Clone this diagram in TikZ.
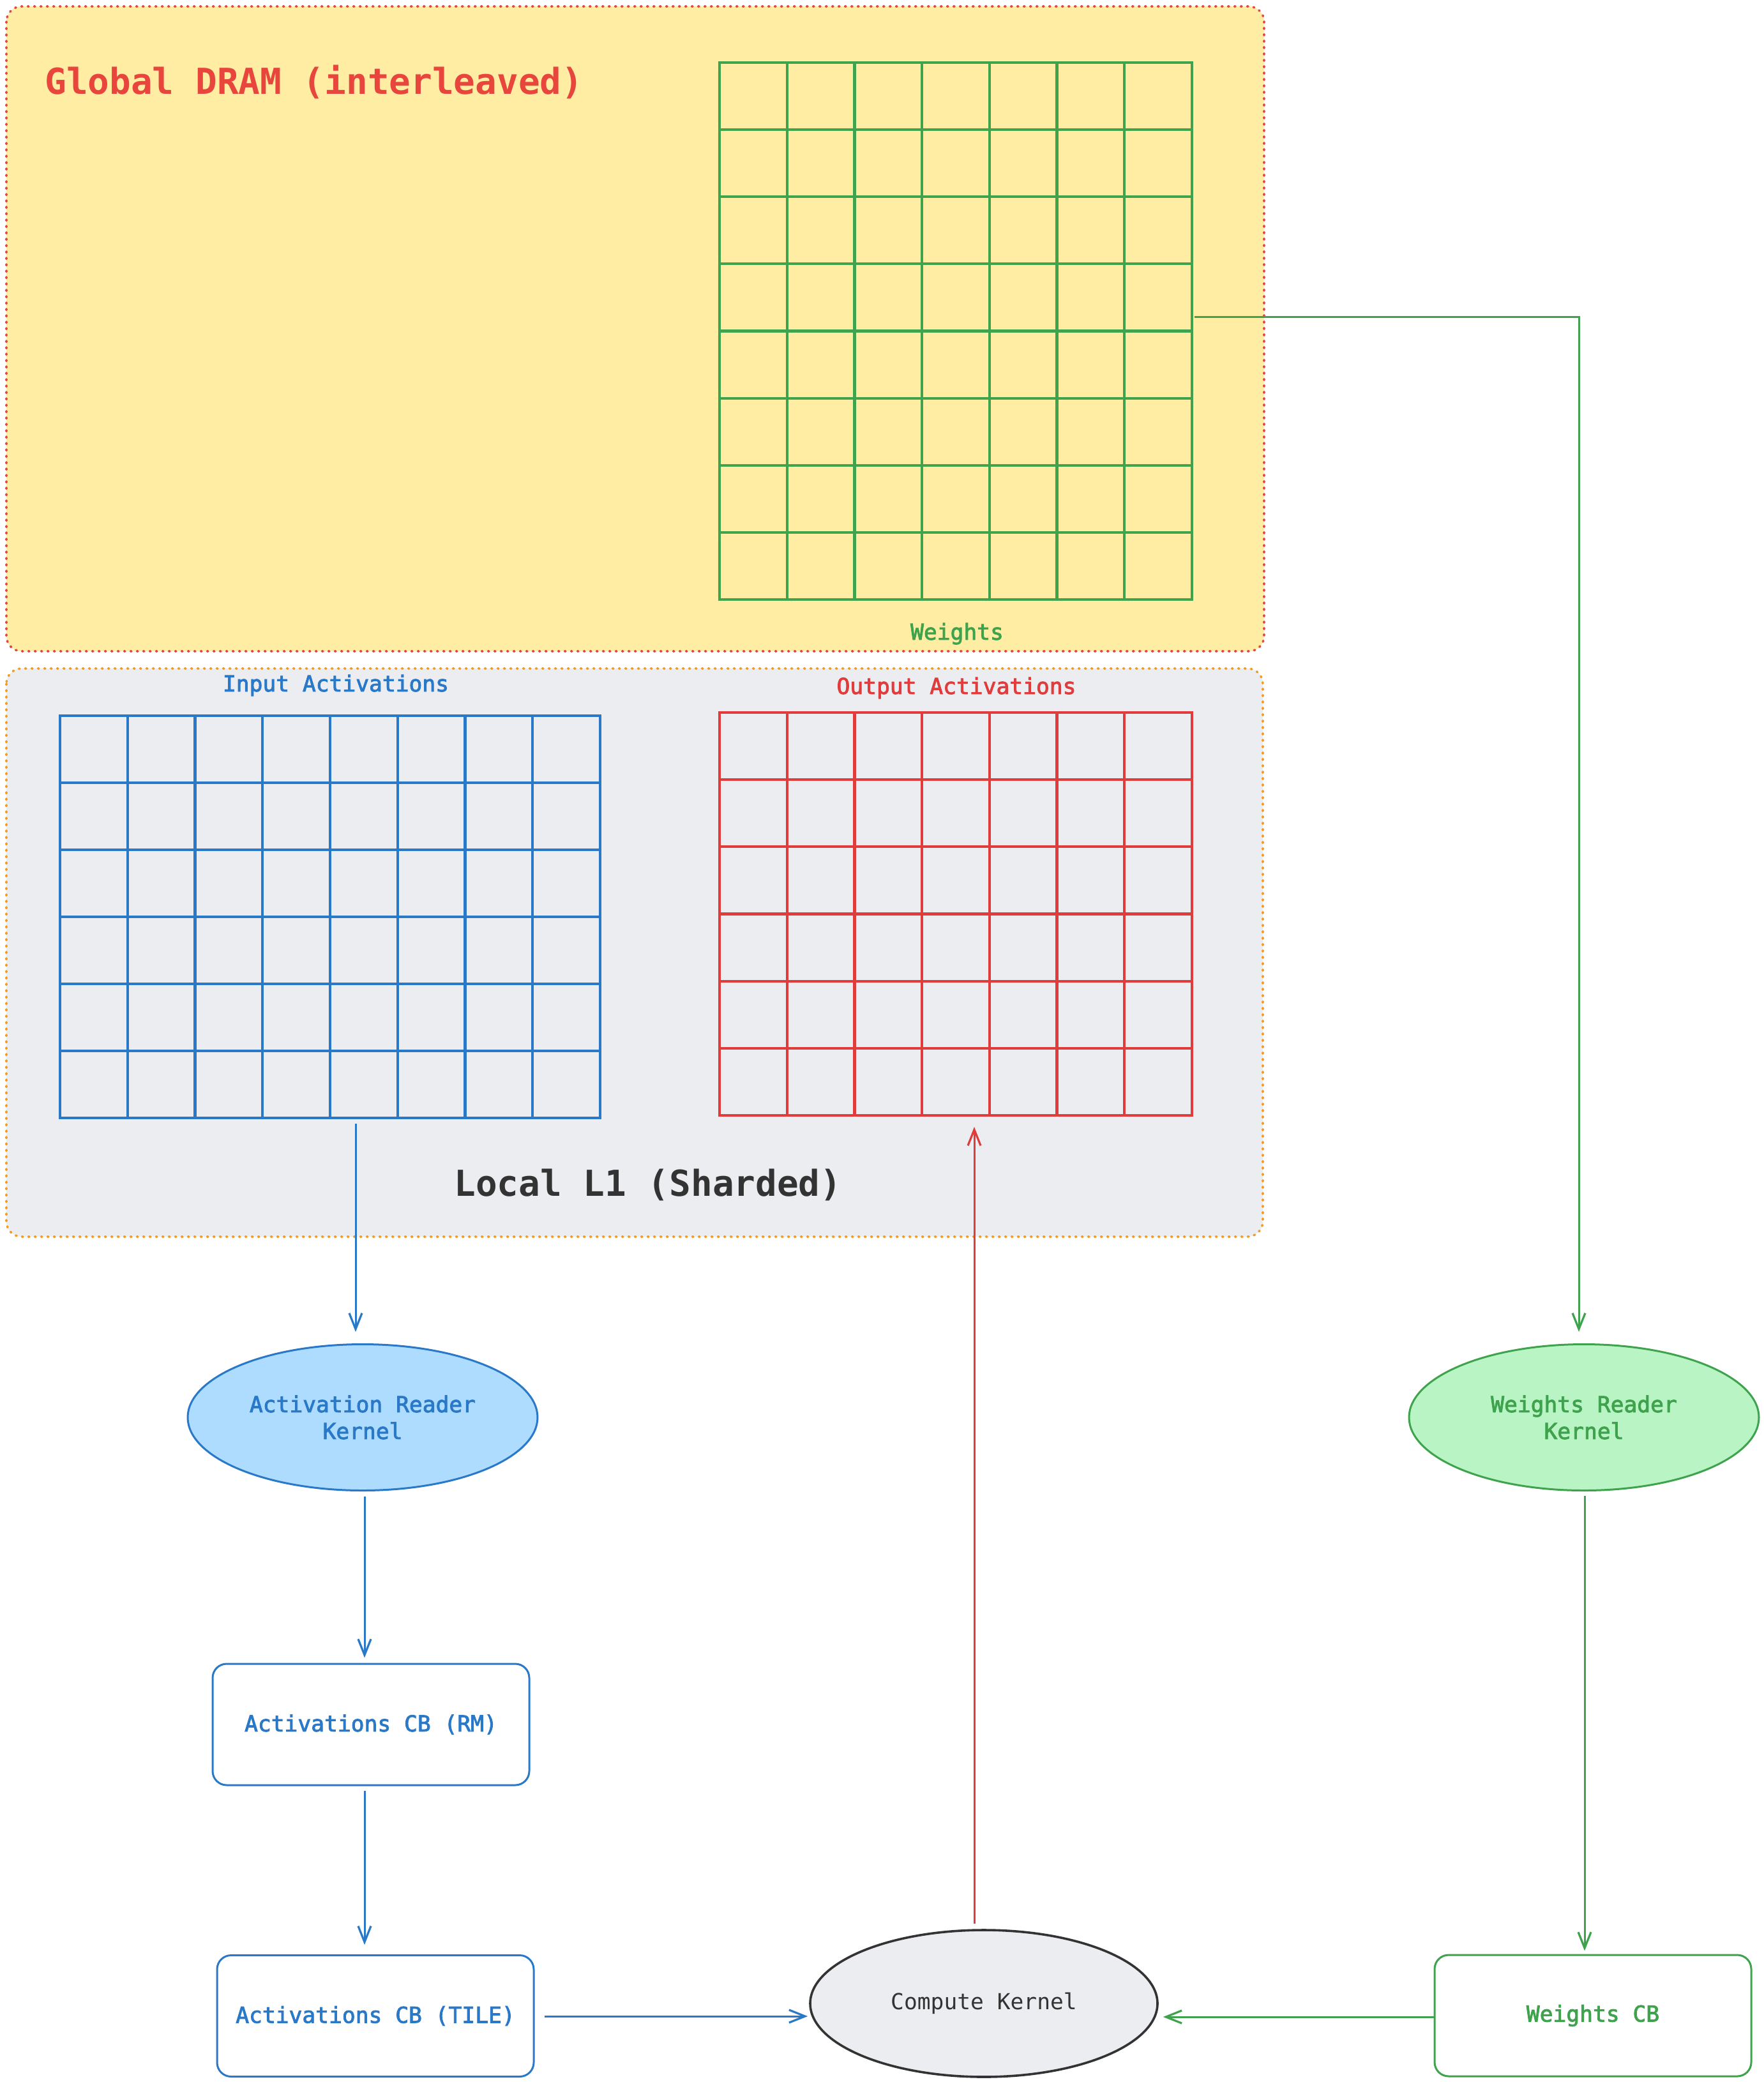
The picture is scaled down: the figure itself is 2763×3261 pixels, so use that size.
\documentclass[tikz,border=0pt]{standalone}
\usepackage{fontspec}
\setmonofont{DejaVu Sans Mono}
\newfontfamily\semimono[FakeBold=2.5]{DejaVu Sans Mono}
\usetikzlibrary{arrows.meta,shapes.geometric,calc}
\definecolor{dramfill}{HTML}{FFEDA4}
\definecolor{dramred}{HTML}{E84545}
\definecolor{lonefill}{HTML}{ECEDF1}
\definecolor{loneorange}{HTML}{F39C1F}
\definecolor{gr}{HTML}{3FA34D}
\definecolor{bl}{HTML}{2A78C8}
\definecolor{rd}{HTML}{E03C3C}
\definecolor{ttl}{HTML}{E8453C}
\definecolor{ltblue}{HTML}{ADDCFE}
\definecolor{ltgreen}{HTML}{B8F4C4}
\definecolor{dk}{HTML}{333333}
\tikzset{
  smalltxt/.style={font=\semimono\fontsize{17.3}{21}\selectfont},
  plaintxt/.style={font=\ttfamily\fontsize{17.3}{21}\selectfont},
  bigtxt/.style={font=\ttfamily\bfseries\fontsize{28}{34}\selectfont},
  container/.style={line width=1.8pt, dash pattern=on 0.8pt off 4.2pt, line cap=round, rounded corners=12pt},
  gridline/.style={line width=2.1pt},
  gridbox/.style={rectangle, draw, line width=2.1pt, inner sep=0pt, outer sep=0pt},
  kernel/.style={ellipse, line width=1.5pt, minimum width=274pt, minimum height=114.5pt, inner sep=0pt, align=center, smalltxt},
  cbbox/.style={rectangle, rounded corners=11pt, line width=1.5pt, fill=white, minimum width=248pt, minimum height=95pt, inner sep=0pt, smalltxt},
  conn/.style={line width=1.5pt, -{Straight Barb[length=12.5pt,width=10pt,line width=1.6pt]}},
}
\begin{document}
\begin{tikzpicture}[x=0.5pt,y=-0.5pt]
\useasboundingbox (0,0) rectangle (2763,3261);
\fill[white] (0,0) rectangle (2763,3261);

% containers
\path[container, fill=dramfill, draw=dramred] (10,10) rectangle (1980,1020);
\path[container, fill=lonefill, draw=loneorange] (10,1047) rectangle (1978,1937);

% titles
\node[bigtxt, text=ttl, anchor=base west, inner sep=0pt] (dramtitle) at (70,147) {Global DRAM (interleaved)};
\node[bigtxt, text=dk, anchor=base, inner sep=0pt] (l1title) at (1015,1873) {Local L1 (Sharded)};

% weights grid
\node[gridbox, draw=gr, minimum width=370pt, minimum height=420.5pt] (wgrid) at (1497,518.5) {};
\foreach \i in {1,...,6} \draw[gridline, gr] ({1127+\i*740/7},98) -- ({1127+\i*740/7},939);
\foreach \j in {1,...,7} \draw[gridline, gr] (1127,{98+\j*841/8}) -- (1867,{98+\j*841/8});
\node[smalltxt, text=gr, anchor=base, inner sep=0pt] (wlabel) at (1499,1002) {Weights};

% input activations grid
\node[gridbox, draw=bl, minimum width=423pt, minimum height=315pt] (igrid) at (517,1436) {};
\foreach \i in {1,...,7} \draw[gridline, bl] ({94+\i*846/8},1121) -- ({94+\i*846/8},1751);
\foreach \j in {1,...,5} \draw[gridline, bl] (94,{1121+\j*105}) -- (940,{1121+\j*105});
\node[smalltxt, text=bl, anchor=base, inner sep=0pt] (ilabel) at (526,1083) {Input Activations};

% output activations grid
\node[gridbox, draw=rd, minimum width=370pt, minimum height=315.5pt] (ogrid) at (1497,1431.5) {};
\foreach \i in {1,...,6} \draw[gridline, rd] ({1127+\i*740/7},1116) -- ({1127+\i*740/7},1747);
\foreach \j in {1,...,5} \draw[gridline, rd] (1127,{1116+\j*631/6}) -- (1867,{1116+\j*631/6});
\node[smalltxt, text=rd, anchor=base, inner sep=0pt] (olabel) at (1498,1087) {Output Activations};

% kernels
\node[kernel, draw=bl, fill=ltblue, text=bl] (ar) at (568,2220) {Activation Reader\\Kernel};
\node[kernel, draw=gr, fill=ltgreen, text=gr] (wr) at (2481,2220) {Weights Reader\\Kernel};
\node[kernel, draw=dk, fill=lonefill, text=dk, plaintxt, line width=1.8pt, minimum width=272pt, minimum height=115pt] (ck) at (1541,3138) {Compute Kernel};

% circular buffers
\node[cbbox, draw=bl, text=bl] (rm) at (581,2701) {Activations CB (RM)};
\node[cbbox, draw=bl, text=bl] (tile) at (588,3157.5) {Activations CB (TILE)};
\node[cbbox, draw=gr, text=gr] (wcb) at (2495,3157) {Weights CB};

% connectors
\draw[conn, bl] ($(igrid.south)+(40,9)$) -- ($(ar.north)+(-11,-18)$);
\draw[conn, bl] ($(ar.south)+(3,8)$) -- ($(rm.north)+(-10,-8)$);
\draw[conn, bl] ($(rm.south)+(-10,7)$) -- ($(tile.north)+(-17,-15)$);
\draw[conn, bl] ($(tile.east)+(15,0.5)$) -- ($(ck.west)+(-2,20)$);
\draw[conn, rd] ($(ck.north)+(-15,-8)$) -- ($(ogrid.south)+(29,18)$);
\draw[conn, gr] ($(wgrid.east)+(4,-22.5)$) -| ($(wr.north)+(-8,-18)$);
\draw[conn, gr] ($(wr.south)+(1,7)$) -- ($(wcb.north)+(-13,-5)$);
\draw[conn, gr] ($(wcb.west)+(0,2)$) -- ($(ck.east)+(7,21)$);
\end{tikzpicture}
\end{document}
